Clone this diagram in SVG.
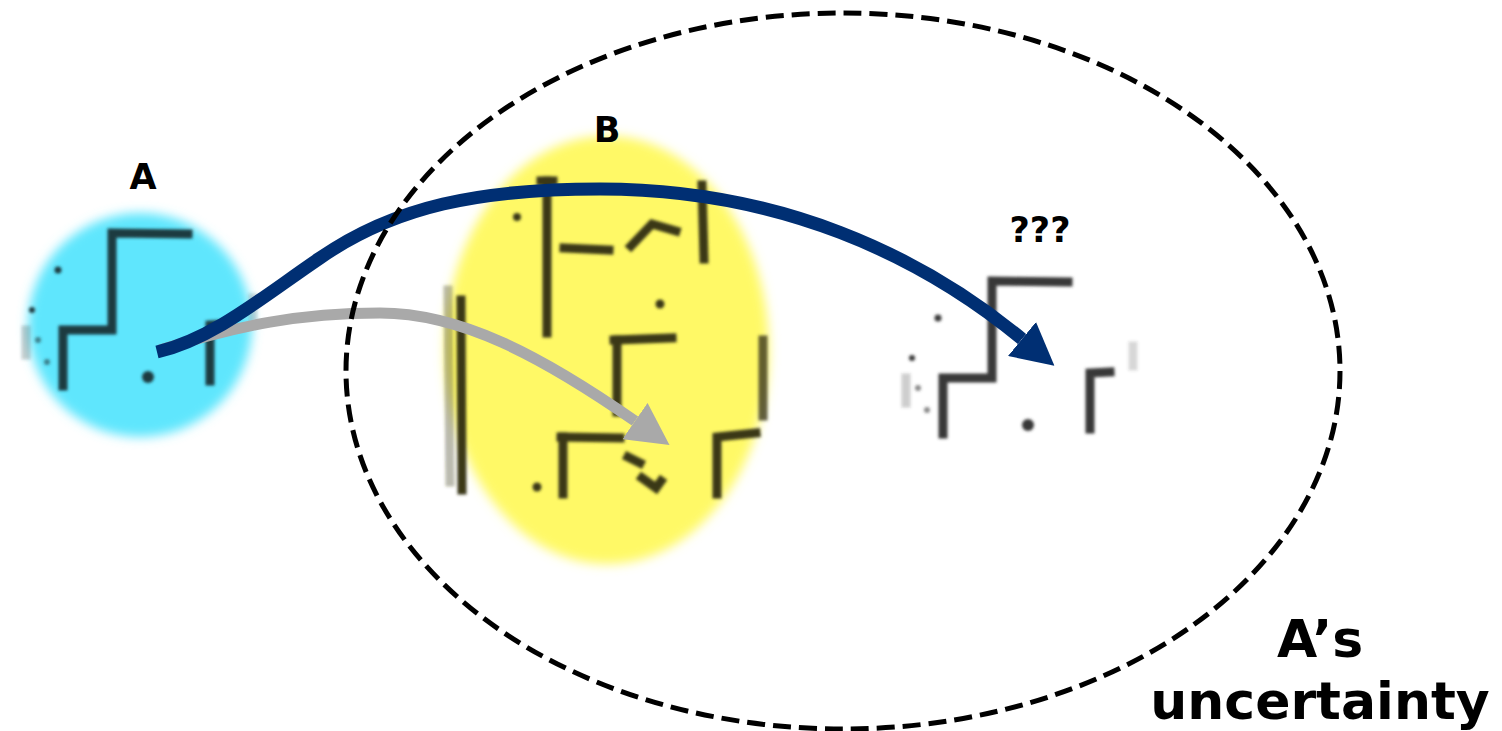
<svg xmlns="http://www.w3.org/2000/svg" xmlns:xlink="http://www.w3.org/1999/xlink" width="1502" height="731" viewBox="0 0 1502 731">
  <style>
    .lbl { font-family: "DejaVu Sans", Verdana, sans-serif; font-weight: bold; fill: #000; text-anchor: middle; }
    .map { fill: none; stroke: currentColor; stroke-width: 9; stroke-linecap: square; stroke-linejoin: miter; }
    .dot { fill: currentColor; }
  </style>
  <defs>
    <filter id="softEdge" x="-20%" y="-20%" width="140%" height="140%">
      <feGaussianBlur stdDeviation="5.5"/>
    </filter>
    <filter id="mapBlur" x="-10%" y="-10%" width="120%" height="120%">
      <feGaussianBlur stdDeviation="1.8"/>
    </filter>
    <g id="mapShape">
      <path class="map" d="M188,234 L112,233 L112,330 L63,330 L63,386"/>
      <path class="map" d="M210,381 L210,325 L230,324"/>
      <circle class="dot" cx="148" cy="377" r="6"/>
      <circle class="dot" cx="58" cy="270" r="3.5"/>
      <circle class="dot" cx="32" cy="310" r="3"/>
      <circle class="dot" cx="38" cy="340" r="3" opacity="0.6"/>
      <circle class="dot" cx="47" cy="362" r="3" opacity="0.6"/>
      <path class="map" d="M26,330 L26,355" opacity="0.25"/>
      <path class="map" d="M253,298 L253,318" opacity="0.2"/>
    </g>
    <marker id="headNavy" viewBox="0 -22 42 44" refX="0" refY="0" markerWidth="42" markerHeight="44" markerUnits="userSpaceOnUse" orient="auto">
      <path d="M0,-22 L42,0 L0,22 Z" fill="#002f73"/>
    </marker>
    <marker id="headGray" viewBox="0 -22 42 44" refX="0" refY="0" markerWidth="42" markerHeight="44" markerUnits="userSpaceOnUse" orient="auto">
      <path d="M0,-22 L42,0 L0,22 Z" fill="#a9a9a9"/>
    </marker>
  </defs>

  <rect width="1502" height="731" fill="#ffffff"/>

  <g id="nodeA">
    <circle cx="140" cy="325" r="112" fill="#5ee6fd" filter="url(#softEdge)"/>
    <g filter="url(#mapBlur)" style="color:#1d3b40">
      <use xlink:href="#mapShape"/>
    </g>
    <text class="lbl" x="143" y="189" font-size="35">A</text>
  </g>

  <g id="nodeB">
    <ellipse cx="607" cy="350" rx="162" ry="214" fill="#fff966" filter="url(#softEdge)"/>
    <g filter="url(#mapBlur)" style="color:#3b3916">
      <path class="map" d="M547,181 L547,333"/>
      <path class="map" d="M541,181 L553,181" stroke-width="6"/>
      <circle class="dot" cx="517" cy="217" r="4"/>
      <path class="map" d="M564,248 L609,250"/>
      <path class="map" d="M631,246 L652,224 L676,231"/>
      <path class="map" d="M702,185 L704,259"/>
      <circle class="dot" cx="660" cy="304" r="4.5"/>
      <path class="map" d="M614,340 L672,338"/>
      <path class="map" d="M617,340 L617,412"/>
      <circle class="dot" cx="537" cy="487" r="4.5"/>
      <path class="map" d="M561,437 L620,438"/>
      <path class="map" d="M563,437 L563,494"/>
      <path class="map" d="M628,457 L640,463" stroke-width="7"/>
      <path class="map" d="M642,478 L656,488 L661,481" stroke-width="7"/>
      <path class="map" d="M717,494 L717,437 L756,433"/>
      <path class="map" d="M461,300 L462,490" stroke-width="7"/>
      <path class="map" d="M448,290 L450,482" stroke-width="7" opacity="0.35"/>
      <path class="map" d="M763,340 L763,420" stroke-width="6" stroke-dasharray="4 8" opacity="0.8"/>
    </g>
    <text class="lbl" x="607" y="142" font-size="35">B</text>
  </g>

  <g id="nodeUnknown">
    <g filter="url(#mapBlur)" style="color:#383838">
      <use xlink:href="#mapShape" transform="translate(880,48)"/>
    </g>
    <text class="lbl" x="1040" y="242" font-size="35">???</text>
  </g>

  <g id="connectors" fill="none">
    <path d="M160,350 C 240,325 300,313 380,313 C 460,313 540,355 635,421" stroke="#a9a9a9" stroke-width="11" marker-end="url(#headGray)"/>
    <path d="M157,352 C 215,338 265,295 320,258 C 395,206 480,189 600,189 C 780,189 920,255 1022,339" stroke="#002f73" stroke-width="13" marker-end="url(#headNavy)"/>
  </g>

  <g id="uncertainty">
    <ellipse cx="843" cy="371" rx="497" ry="358" fill="none" stroke="#000" stroke-width="5" stroke-dasharray="18 8"/>
    <text class="lbl" x="1320" y="657" font-size="52">A’s</text>
    <text class="lbl" x="1320" y="719" font-size="52">uncertainty</text>
  </g>
</svg>
